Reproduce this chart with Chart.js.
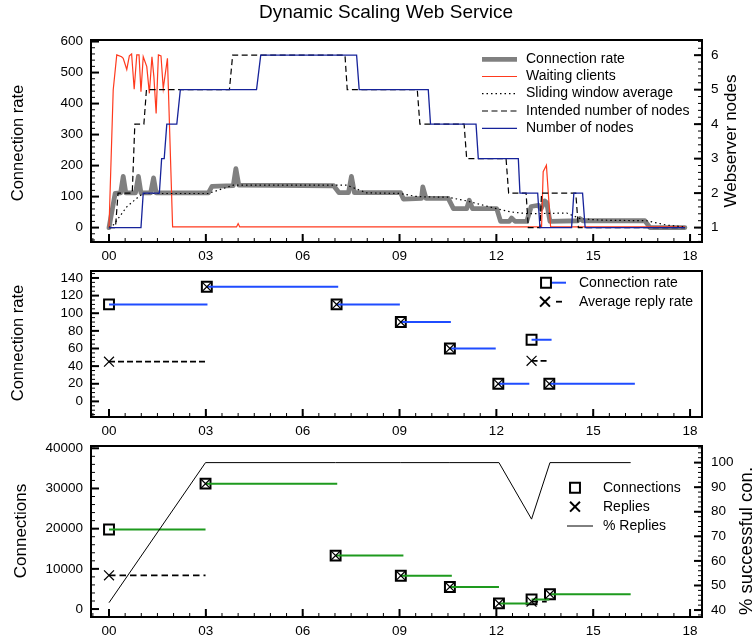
<!DOCTYPE html>
<html lang="en">
<head>
<meta charset="UTF-8">
<title>Dynamic Scaling Web Service</title>
<script src="https://cdn.jsdelivr.net/npm/chart.js"></script>
<style>
  body { margin: 0; background: #fff; }
  #wrap { position: relative; width: 754px; height: 640px; }
  #wrap canvas { position: absolute; left: 0; }
</style>
</head>
<body>
<div id="wrap">
  <canvas id="nodesChart" width="754" height="262" style="top:0"></canvas>
  <canvas id="rateChart" width="754" height="175" style="top:262px"></canvas>
  <canvas id="connChart" width="754" height="203" style="top:437px"></canvas>
</div>
<script>
// hours since start
const hourTicks = [0, 3, 6, 9, 12, 15, 18];
const hourLabels = ['00', '03', '06', '09', '12', '15', '18'];

// --- top panel ---
const rateTicks = [0, 100, 200, 300, 400, 500, 600];
const nodeTicks = [1, 2, 3, 4, 5, 6];

const crHours = [0, 0.19, 0.36, 0.44, 0.52, 0.82, 0.91, 0.99, 1.29, 1.38, 1.46, 3.08, 3.19, 3.85, 3.93, 4.02, 6.96, 7.12, 7.42, 7.51, 7.60, 9.03, 9.12, 9.68, 9.72, 9.82, 10.51, 10.67, 11.08, 11.16, 11.26, 12.01, 12.13, 12.4, 12.47, 12.58, 12.94, 13.08, 13.3, 13.38, 13.5, 13.56, 13.66, 14.52, 14.59, 14.68, 16.6, 16.76, 17.84];
const crRate = [0, 110, 112, 165, 112, 112, 165, 112, 112, 160, 112, 112, 133, 135, 190, 137, 135, 113, 113, 165, 113, 113, 92, 94, 131, 94, 94, 61, 61, 88, 61, 61, 20, 20, 31, 20, 20, 68, 72, 60, 86, 80, 20, 22, 29, 22, 22, 0, 0];

const wcHours = [0, 0.13, 0.24, 0.39, 0.44, 0.55, 0.63, 0.70, 0.78, 0.86, 0.93, 0.99, 1.06, 1.17, 1.25, 1.33, 1.39, 1.46, 1.53, 1.61, 1.68, 1.81, 1.97, 3.95, 4.0, 4.05, 13.4, 13.45, 13.55, 13.68, 17.84];
const wcCount = [0, 444, 557, 551, 546, 510, 554, 560, 446, 557, 557, 438, 551, 519, 433, 551, 487, 368, 557, 554, 449, 546, 2, 2, 13, 2, 2, 180, 201, 2, 2];

const swHours = [0, 0.15, 0.55, 0.91, 1.06, 3.08, 3.85, 7.36, 7.98, 9.02, 9.48, 9.8, 10.5, 11.08, 11.6, 12.0, 12.42, 12.94, 13.25, 14.18, 14.59, 15.21, 16.66, 17.28, 17.84];
const swAvg = [0, 10, 67, 99, 110, 110, 137, 137, 112, 110, 101, 99, 98, 86, 72, 61, 51, 45, 45, 47, 29, 24, 22, 8, 2];

const intHours = [0, 0.2, 0.28, 0.72, 0.8, 1.08, 1.16, 3.73, 3.83, 7.31, 7.38, 9.55, 9.63, 11.0, 11.08, 12.30, 12.38, 12.92, 12.99, 13.35, 13.40, 14.46, 14.54, 17.84];
const intNodes = [1, 1, 2, 2, 4, 4, 5, 5, 6, 6, 5, 5, 4, 4, 3, 3, 2, 2, 1, 1, 2, 2, 1, 1];

const nodeHours = [0, 0.99, 1.06, 1.56, 1.63, 1.71, 1.79, 2.10, 2.21, 4.57, 4.70, 7.67, 7.75, 9.89, 9.96, 11.37, 11.44, 12.68, 12.73, 13.28, 13.35, 14.33, 14.40, 14.67, 14.75, 17.84];
const nodeCount = [1, 1, 2, 2, 3, 3, 4, 4, 5, 5, 6, 6, 5, 5, 4, 4, 3, 3, 2, 2, 1, 1, 2, 2, 1, 1];

// --- middle panel ---
const midTicks = [0, 20, 40, 60, 80, 100, 120, 140];
const midStart = [0, 3.03, 7.05, 9.04, 10.56, 12.06, 13.09, 13.64];
const midEnd = [3.05, 7.1, 9.01, 10.59, 11.98, 13.02, 13.71, 16.29];
const midReplyEnd = [3.03, 7.1, 9.01, 10.59, 11.98, 13.02, 13.6, 16.29];
const midConnRate = [110, 130, 110, 90, 60, 20, 70, 20];
const midReplyRate = [45, 130, 110, 90, 60, 20, 46, 20];

// --- bottom panel ---
const connTicks = [0, 10000, 20000, 30000, 40000];
const pctTicks = [40, 50, 60, 70, 80, 90, 100];
const botStart = [0, 2.99, 7.02, 9.04, 10.56, 12.08, 13.09, 13.66];
const botEnd = [2.99, 7.07, 9.12, 10.62, 12.08, 13.04, 13.64, 16.16];
const botReplyEnd = [2.99, 7.07, 9.12, 10.62, 12.08, 13.04, 13.56, 16.16];
const connCount = [19800, 31200, 13300, 8300, 5500, 1400, 2400, 3700];
const replyCount = [8400, 31200, 13300, 8300, 5500, 1400, 1850, 3700];
const pctHours = [0, 2.99, 7.02, 9.04, 10.56, 12.08, 13.09, 13.66, 16.16];
const pctReplies = [43, 100, 100, 100, 100, 100, 77, 100, 100];

const FONT = "'Liberation Sans', Arial, Helvetica, sans-serif";
Chart.defaults.font.family = FONT;
Chart.defaults.color = '#000';

function pts(xs, ys) {
    return xs.map((x, i) => ({ x: x, y: ys[i] }));
}
// horizontal segments start..end with a gap between each
function segs(starts, ends, vals) {
    const out = [];
    starts.forEach((s, i) => {
        out.push({ x: s, y: vals[i] }, { x: ends[i], y: vals[i] }, { x: ends[i], y: null });
    });
    return out;
}
// reply dash is hidden where it sits under the connection line
function hideSame(replies, conns) {
    return c => replies[Math.floor(c.p0DataIndex / 3)] === conns[Math.floor(c.p0DataIndex / 3)] ? 'rgba(0,0,0,0)' : undefined;
}

function xAxis(h) {
    return {
        type: 'linear', position: 'bottom', min: -0.558, max: 18.37,
        grid: { display: false, drawTicks: false },
        border: { display: false },
        ticks: { padding: 6, font: { size: 13.5 }, color: '#000', maxRotation: 0, autoSkip: false,
            callback: (v, i) => hourLabels[i] },
        afterBuildTicks: s => { s.ticks = hourTicks.map(v => ({ value: v })); },
        afterFit: s => { s.height = h; s.paddingLeft = 0; s.paddingRight = 0; }
    };
}

function yAxis(pos, min, max, ticks, w) {
    return {
        type: 'linear', position: pos, min: min, max: max,
        grid: { display: false, drawTicks: false },
        border: { display: false },
        ticks: { padding: pos === 'left' ? 8 : 9, font: { size: 13.5 }, color: '#000',
            callback: v => String(v) },
        afterBuildTicks: s => { s.ticks = ticks.map(v => ({ value: v })); },
        afterFit: s => { s.width = w; s.paddingTop = 0; s.paddingBottom = 0; }
    };
}

// frame, inward tick marks, legend, axis titles
const decor = {
    id: 'decor',
    afterDatasetsDraw(chart, args, o) {
        const ctx = chart.ctx, a = chart.chartArea;
        ctx.save();
        ctx.strokeStyle = '#000';
        Object.values(chart.scales).forEach(s => {
            const mark = (v, len) => {
                const p = s.getPixelForValue(v);
                ctx.beginPath();
                if (s.isHorizontal()) { ctx.moveTo(p, a.bottom); ctx.lineTo(p, a.bottom - len); }
                else if (s.position === 'left') { ctx.moveTo(a.left, p); ctx.lineTo(a.left + len, p); }
                else { ctx.moveTo(a.right, p); ctx.lineTo(a.right - len, p); }
                ctx.stroke();
            };
            const step = o.minor[s.id];
            ctx.lineWidth = 1;
            for (let n = Math.ceil(s.min / step); n <= Math.floor(s.max / step); n++) mark(n * step, 4);
            ctx.lineWidth = 2;
            s.ticks.forEach(t => mark(t.value, 8));
        });
        ctx.lineWidth = 2;
        ctx.strokeRect(a.left, a.top, a.right - a.left, a.bottom - a.top);

        // legend
        const ds = chart.data.datasets;
        ctx.font = '14px ' + FONT;
        ctx.textBaseline = 'middle';
        ctx.textAlign = 'left';
        o.legend.rows.forEach(r => {
            if (r.line) {
                const d = ds[r.line.ds];
                ctx.save();
                ctx.strokeStyle = d.borderColor;
                ctx.lineWidth = d.borderWidth;
                ctx.setLineDash(d.borderDash || []);
                ctx.beginPath();
                ctx.moveTo(r.line.x0, r.y);
                ctx.lineTo(r.line.x1, r.y);
                ctx.stroke();
                ctx.restore();
            }
            if (r.mark) {
                const d = ds[r.mark.ds];
                ctx.save();
                ctx.fillStyle = d.pointBackgroundColor;
                ctx.strokeStyle = d.pointBorderColor;
                Chart.helpers.drawPoint(ctx, { pointStyle: d.pointStyle, radius: d.pointRadius,
                    rotation: 0, borderWidth: d.pointBorderWidth }, r.mark.x, r.y);
                ctx.restore();
            }
            ctx.fillStyle = '#000';
            ctx.fillText(ds[r.text].label, o.legend.tx, r.y);
        });

        // rotated axis titles
        ctx.textAlign = 'center';
        o.titles.forEach(t => {
            ctx.save();
            ctx.font = (t.size || 16.5) + 'px ' + FONT;
            ctx.translate(t.x, t.y);
            ctx.rotate(-Math.PI / 2);
            ctx.fillText(t.text, 0, 0);
            ctx.restore();
        });
        if (o.heading) {
            ctx.font = '19px ' + FONT;
            ctx.fillText(o.heading.text, o.heading.x, o.heading.y);
        }
        ctx.restore();
    }
};

const base = { responsive: false, animation: false, devicePixelRatio: 1 };

// top: connection rate and nodes
new Chart(document.getElementById('nodesChart'), {
    type: 'scatter',
    data: {
        datasets: [
            { label: 'Connection rate', data: pts(crHours, crRate), yAxisID: 'y', showLine: true,
              borderColor: '#808080', borderWidth: 4.8, borderJoinStyle: 'round', borderCapStyle: 'round', pointRadius: 0, order: 5 },
            { label: 'Waiting clients', data: pts(wcHours, wcCount), yAxisID: 'y', showLine: true,
              borderColor: '#ff3a1e', borderWidth: 1.2, pointRadius: 0, order: 4 },
            { label: 'Sliding window average', data: pts(swHours, swAvg), yAxisID: 'y', showLine: true,
              borderColor: '#000', borderWidth: 1.2, borderDash: [1.5, 3], pointRadius: 0, order: 3 },
            { label: 'Intended number of nodes', data: pts(intHours, intNodes), yAxisID: 'y2', showLine: true,
              borderColor: '#000', borderWidth: 1.2, borderDash: [6, 3.5], pointRadius: 0, order: 2 },
            { label: 'Number of nodes', data: pts(nodeHours, nodeCount), yAxisID: 'y2', showLine: true,
              borderColor: '#16239a', borderWidth: 1.3, pointRadius: 0, order: 1 }
        ]
    },
    options: Object.assign({}, base, {
        layout: { padding: { top: 40 } },
        scales: {
            x: xAxis(20),
            y: yAxis('left', -46.5, 605, rateTicks, 91),
            y2: yAxis('right', 0.582, 6.44, nodeTicks, 52)
        },
        plugins: {
            legend: { display: false }, tooltip: { enabled: false },
            decor: {
                minor: { x: 0.5, y: 20, y2: 0.2 },
                heading: { text: 'Dynamic Scaling Web Service', x: 386, y: 13 },
                titles: [{ text: 'Connection rate', x: 18, y: 143 }, { text: 'Webserver nodes', x: 731, y: 141, size: 17 }],
                legend: { tx: 526, rows: [
                    { text: 0, y: 59.3, line: { ds: 0, x0: 482, x1: 517 } },
                    { text: 1, y: 76.5, line: { ds: 1, x0: 482, x1: 517 } },
                    { text: 2, y: 93.6, line: { ds: 2, x0: 482, x1: 517 } },
                    { text: 3, y: 111, line: { ds: 3, x0: 482, x1: 517 } },
                    { text: 4, y: 128.3, line: { ds: 4, x0: 482, x1: 517 } }
                ] }
            }
        }
    }),
    plugins: [decor]
});

// middle: connection rate vs reply rate per interval
new Chart(document.getElementById('rateChart'), {
    type: 'scatter',
    data: {
        datasets: [
            { label: 'Connection rate', data: pts(midStart, midConnRate), pointStyle: 'rect', pointRadius: 7,
              pointBorderWidth: 2, pointBorderColor: '#000', pointBackgroundColor: '#fff', order: 4 },
            { label: 'Average reply rate', data: segs(midStart, midReplyEnd, midReplyRate), showLine: true,
              borderColor: '#000', borderWidth: 1.8, borderDash: [6, 3], pointRadius: 0, order: 3,
              segment: { borderColor: hideSame(midReplyRate, midConnRate) } },
            { label: 'Connection rate', data: segs(midStart, midEnd, midConnRate), showLine: true,
              borderColor: '#1f4cff', borderWidth: 2, pointRadius: 0, order: 2 },
            { label: 'Average reply rate', data: pts(midStart, midReplyRate), pointStyle: 'crossRot', pointRadius: 7,
              pointBorderWidth: 1.2, pointBorderColor: '#000', pointBackgroundColor: '#000', order: 1 }
        ]
    },
    options: Object.assign({}, base, {
        layout: { padding: { top: 8, right: 52 } },
        scales: {
            x: xAxis(20),
            y: yAxis('left', -17.7, 147.9, midTicks, 91)
        },
        plugins: {
            legend: { display: false }, tooltip: { enabled: false },
            decor: {
                minor: { x: 0.5, y: 5 },
                titles: [{ text: 'Connection rate', x: 18, y: 81 }],
                legend: { tx: 579, rows: [
                    { text: 0, y: 20.7, line: { ds: 2, x0: 546, x1: 566 }, mark: { ds: 0, x: 546 } },
                    { text: 1, y: 39.7, line: { ds: 1, x0: 556, x1: 562.5 }, mark: { ds: 3, x: 545 } }
                ] }
            }
        }
    }),
    plugins: [decor]
});

// bottom: connections, replies and % successful
new Chart(document.getElementById('connChart'), {
    type: 'scatter',
    data: {
        datasets: [
            { label: 'Connections', data: pts(botStart, connCount), yAxisID: 'y', pointStyle: 'rect', pointRadius: 7,
              pointBorderWidth: 2, pointBorderColor: '#000', pointBackgroundColor: '#fff', order: 5 },
            { label: 'Replies', data: segs(botStart, botReplyEnd, replyCount), yAxisID: 'y', showLine: true,
              borderColor: '#000', borderWidth: 1.8, borderDash: [6.5, 4], pointRadius: 0, order: 4,
              segment: { borderColor: hideSame(replyCount, connCount) } },
            { label: 'Connections', data: segs(botStart, botEnd, connCount), yAxisID: 'y', showLine: true,
              borderColor: '#1e9a1e', borderWidth: 2, pointRadius: 0, order: 3 },
            { label: 'Replies', data: pts(botStart, replyCount), yAxisID: 'y', pointStyle: 'crossRot', pointRadius: 7,
              pointBorderWidth: 1.2, pointBorderColor: '#000', pointBackgroundColor: '#000', order: 2 },
            { label: '% Replies', data: pts(pctHours, pctReplies), yAxisID: 'y2', showLine: true,
              borderColor: '#000', borderWidth: 1, pointRadius: 0, order: 1 }
        ]
    },
    options: Object.assign({}, base, {
        layout: { padding: { top: 8 } },
        scales: {
            x: xAxis(23),
            y: yAxis('left', -1979, 40569, connTicks, 91),
            y2: yAxis('right', 37.17, 106.76, pctTicks, 52)
        },
        plugins: {
            legend: { display: false }, tooltip: { enabled: false },
            decor: {
                minor: { x: 0.5, y: 2000, y2: 2 },
                titles: [{ text: 'Connections', x: 21, y: 94, size: 17 },
                         { text: '% successful con.', x: 747, y: 104, size: 18.5 }],
                legend: { tx: 603, rows: [
                    { text: 0, y: 50.7, mark: { ds: 0, x: 575 } },
                    { text: 3, y: 69.7, mark: { ds: 3, x: 575 } },
                    { text: 4, y: 89, line: { ds: 4, x0: 567, x1: 593 } }
                ] }
            }
        }
    }),
    plugins: [decor]
});
</script>
</body>
</html>
